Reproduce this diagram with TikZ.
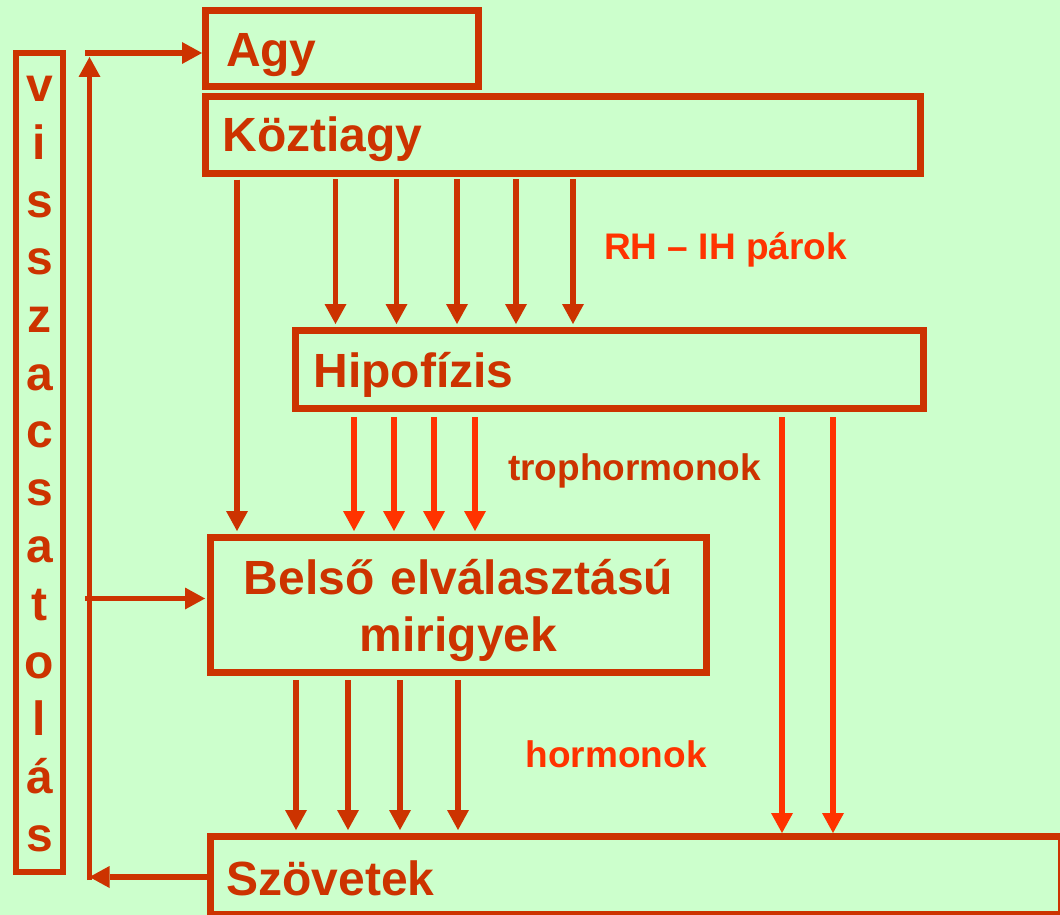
\documentclass[tikz,border=0pt]{standalone}
\usepackage{fontspec}
\setmainfont{Liberation Sans}
\usetikzlibrary{arrows.meta}
\definecolor{bg}{HTML}{CCFFCC}
\definecolor{dk}{HTML}{CC3300}
\definecolor{br}{HTML}{FF3300}
\newcommand\myBigFont{\fontsize{48pt}{57.62pt}\selectfont\bfseries}
\newcommand\myBelFont{\fontsize{48pt}{57pt}\selectfont\bfseries}
\newcommand\mySmallFont{\fontsize{37pt}{44pt}\selectfont\bfseries}
\begin{document}
\begin{tikzpicture}[x=1pt,y=-1pt,
  box/.style={draw=dk, line width=7pt, rectangle, inner ysep=0pt, text=dk, font=\myBigFont, align=left, text depth=0pt},
  lbl/.style={anchor=base west, inner sep=0pt, font=\mySmallFont},
  tipA/.tip={Triangle[width=22pt,length=20pt,line width=0pt]},
  darr/.style={draw=dk, line width=5.2pt, -tipA},
  barr/.style={draw=br, line width=5.5pt, -tipA},
  farr/.style={draw=dk, line width=5.5pt, -{Triangle[width=22pt,length=20pt,line width=0pt]}},
]
\fill[bg] (0,0) rectangle (1060,915);
\useasboundingbox (0,0) rectangle (1060,915);

% boxes
\node[box, minimum width=273pt, minimum height=76pt, inner xsep=20.5pt, text width=232pt, text height=36pt] (agy) at (342,49) {Agy};
\node[box, minimum width=715pt, minimum height=77pt, inner xsep=17pt, text width=681pt, text height=34.6pt] (kozti) at (563,134.7) {Köztiagy};
\node[box, minimum width=627.4pt, minimum height=77.7pt, inner xsep=17.7pt, text width=592pt, text height=35.3pt] (hipo) at (609.5,369.35) {Hipofízis};
\node[box, minimum width=496pt, minimum height=135pt, inner xsep=8pt, text width=480pt, align=center, font=\myBelFont, text height=, text depth=] (bel) at (458.5,605) {\rule{0pt}{46pt}Belső elválasztású\\mirigyek\rule[-11pt]{0pt}{11pt}};
\node[box, minimum width=851pt, minimum height=78pt, inner xsep=15.8pt, text width=819.4pt, text height=39pt] (szov) at (636,875.5) {Szövetek};
\node[box, line width=6pt, minimum width=46.4pt, minimum height=819pt, inner xsep=3.2pt, text width=40pt, align=center, text height=, text depth=] (vissza) at (39.5,462.5)
  {\rule{0pt}{38pt}v\\i\\s\\s\\z\\a\\c\\s\\a\\t\\o\\l\\á\\s\rule[-10pt]{0pt}{10pt}};

% labels
\node[lbl, text=br] (rh) at (604,259.3) {RH – IH párok};
\node[lbl, text=dk] (tro) at (508,480) {trophormonok};
\node[lbl, text=br] (hor) at (525.5,767) {hormonok};

% Köztiagy -> Belső
\coordinate (kb) at (237,0);
\draw[darr, shorten <=3pt, shorten >=3pt] (kozti.south -| kb) -- (bel.north -| kb);
% Köztiagy -> Hipofízis
\foreach \x in {335.5,396.5,457,516,573} {
  \coordinate (t) at (\x,0);
  \draw[darr, shorten <=2.5pt, shorten >=3pt] (kozti.south -| t) -- (hipo.north -| t);
}
% Hipofízis -> Belső
\foreach \x in {354,394,434,475} {
  \coordinate (t) at (\x,0);
  \draw[barr, shorten <=5.5pt, shorten >=3pt] (hipo.south -| t) -- (bel.north -| t);
}
% Hipofízis -> Szövetek
\foreach \x in {782,833} {
  \coordinate (t) at (\x,0);
  \draw[barr, shorten <=5.5pt] (hipo.south -| t) -- (szov.north -| t);
}
% Belső -> Szövetek
\foreach \x in {296,348,400,458} {
  \coordinate (t) at (\x,0);
  \draw[darr, shorten <=4pt, shorten >=3pt] (bel.south -| t) -- (szov.north -| t);
}

% feedback loop
\coordinate (fup) at (89.5,57);
\coordinate (fbot) at (89.5,877);
\coordinate (fstart) at (89.5,880);
\coordinate (ftop) at (85,53);
\coordinate (fmid) at (85,598.5);
\draw[farr] (fstart) -- (fup);
\draw[farr] (ftop) -- (ftop -| agy.west);
\draw[farr, shorten >=2pt] (fmid) -- (fmid -| bel.west);
\draw[farr] (szov.west |- fbot) -- (fbot);
\end{tikzpicture}
\end{document}
